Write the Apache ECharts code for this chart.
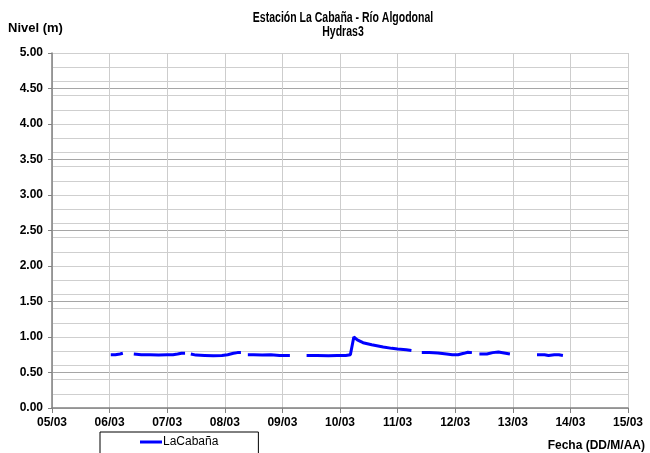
<!DOCTYPE html>
<html>
<head>
<meta charset="utf-8">
<script src="https://cdn.jsdelivr.net/npm/echarts@6/dist/echarts.min.js"></script>
<style>
  html, body { margin: 0; padding: 0; background: #ffffff; }
  #chart { width: 650px; height: 453px; }
</style>
</head>
<body>
<div id="chart"></div>
<script>
// Nivel del río en la estación La Cabaña (sensor Hydras3), marzo.
// Día del mes (fraccionario) y nivel en metros; null corta la línea donde faltan registros.
var dias = [
  6.02, 6.10, 6.18, 6.23, 6.30,
  6.42, 6.55, 6.70, 6.85, 7.00, 7.10, 7.18, 7.25, 7.31, 7.36,
  7.41, 7.50, 7.65, 7.80, 7.95, 8.05, 8.15, 8.22, 8.28, 8.34,
  8.40, 8.50, 8.65, 8.80, 8.95, 9.05, 9.13, 9.25,
  9.42, 9.60, 9.80, 9.95, 10.10, 10.18, 10.20, 10.24, 10.30, 10.40, 10.55, 10.75, 10.90, 11.00, 11.15, 11.24, 11.32,
  11.42, 11.55, 11.70, 11.85, 11.95, 12.05, 12.15, 12.22, 12.29, 12.35,
  12.42, 12.55, 12.65, 12.75, 12.85, 12.95, 13.10,
  13.42, 13.55, 13.62, 13.72, 13.80, 13.87
];
var nivel = [
  0.75, 0.75, 0.76, 0.77, null,
  0.76, 0.75, 0.75, 0.745, 0.75, 0.75, 0.76, 0.77, 0.77, null,
  0.76, 0.745, 0.74, 0.735, 0.74, 0.75, 0.77, 0.78, 0.78, null,
  0.75, 0.75, 0.745, 0.75, 0.74, 0.74, 0.74, null,
  0.74, 0.74, 0.735, 0.74, 0.74, 0.75, 0.76, 1.00, 0.96, 0.92, 0.89, 0.86, 0.84, 0.83, 0.82, 0.81, null,
  0.78, 0.78, 0.775, 0.76, 0.75, 0.75, 0.77, 0.785, 0.78, null,
  0.76, 0.76, 0.78, 0.79, 0.775, 0.76, null,
  0.75, 0.75, 0.74, 0.75, 0.75, 0.74
];
var nombreSerie = 'LaCabaña';
var mes = '03';
var titulo = 'Estación La Cabaña - Río Algodonal';
var subtitulo = 'Hydras3';

var puntos = dias.map(function (d, i) { return [d, nivel[i]]; });

var chart = echarts.init(document.getElementById('chart'), null, { renderer: 'canvas' });
var fuente = "'Liberation Sans', Arial, sans-serif";

chart.setOption({
  backgroundColor: '#ffffff',
  animation: false,
  // Título en letra estrecha: texto comprimido horizontalmente
  graphic: [
    {
      type: 'text',
      x: 343,
      y: 11,
      scaleX: 0.75,
      style: {
        text: titulo + '\n' + subtitulo,
        textAlign: 'center',
        textVerticalAlign: 'top',
        font: "bold 14px 'Liberation Sans', Arial, sans-serif",
        lineHeight: 14,
        fill: '#000000'
      }
    }
  ],
  legend: {
    data: [nombreSerie],
    left: 100,
    top: 432,
    icon: 'rect',
    itemWidth: 22,
    itemHeight: 3,
    itemGap: 0,
    padding: [4, 40, 16, 40],
    borderColor: '#000000',
    borderWidth: 1,
    textStyle: { fontFamily: fuente, fontSize: 12, color: '#000000', padding: [0, 0, 0, -4] }
  },
  grid: { left: 52, right: 22, top: 53, bottom: 45 },
  xAxis: {
    type: 'value',
    min: 5,
    max: 15,
    interval: 1,
    name: 'Fecha (DD/M/AA)',
    nameLocation: 'end',
    nameGap: 0,
    nameTextStyle: {
      fontFamily: fuente, fontWeight: 'bold', fontSize: 12, color: '#000000',
      align: 'right', verticalAlign: 'top', padding: [32, -17, 0, 0]
    },
    axisLine: { show: true, lineStyle: { color: '#808080', width: 1.5 } },
    axisTick: { show: true, length: 5, lineStyle: { color: '#808080' } },
    axisLabel: {
      margin: 9,
      fontFamily: fuente, fontWeight: 'bold', fontSize: 12, color: '#000000',
      formatter: function (v) { var d = Math.round(v); return (d < 10 ? '0' : '') + d + '/' + mes; }
    },
    splitLine: { show: true, lineStyle: { color: '#cdcdcd', width: 1 } }
  },
  yAxis: [
    {
      type: 'value',
      min: 0,
      max: 5,
      interval: 0.5,
      name: 'Nivel (m)',
      nameLocation: 'end',
      nameGap: 18,
      nameTextStyle: {
        fontFamily: fuente, fontWeight: 'bold', fontSize: 13, color: '#000000',
        align: 'left', padding: [0, 0, 0, -44]
      },
      axisLine: { show: true, lineStyle: { color: '#808080', width: 1.5 } },
      axisTick: { show: true, length: 4, lineStyle: { color: '#808080' } },
      axisLabel: {
        margin: 9,
        fontFamily: fuente, fontWeight: 'bold', fontSize: 12, color: '#000000',
        formatter: function (v) { return v.toFixed(2); }
      },
      splitLine: { show: true, lineStyle: { color: '#a6a6a6', width: 1 } }
    },
    {
      type: 'value',
      min: 0,
      max: 5,
      interval: 0.2,
      position: 'left',
      axisLine: { show: false },
      axisTick: { show: false },
      axisLabel: { show: false },
      splitLine: { show: true, lineStyle: { color: '#cfcfcf', width: 1 } }
    }
  ],
  series: [
    {
      name: nombreSerie,
      type: 'line',
      yAxisIndex: 0,
      data: puntos,
      showSymbol: false,
      connectNulls: false,
      lineStyle: { color: '#0000ff', width: 3 },
      itemStyle: { color: '#0000ff' },
      z: 5
    }
  ]
});
</script>
</body>
</html>
